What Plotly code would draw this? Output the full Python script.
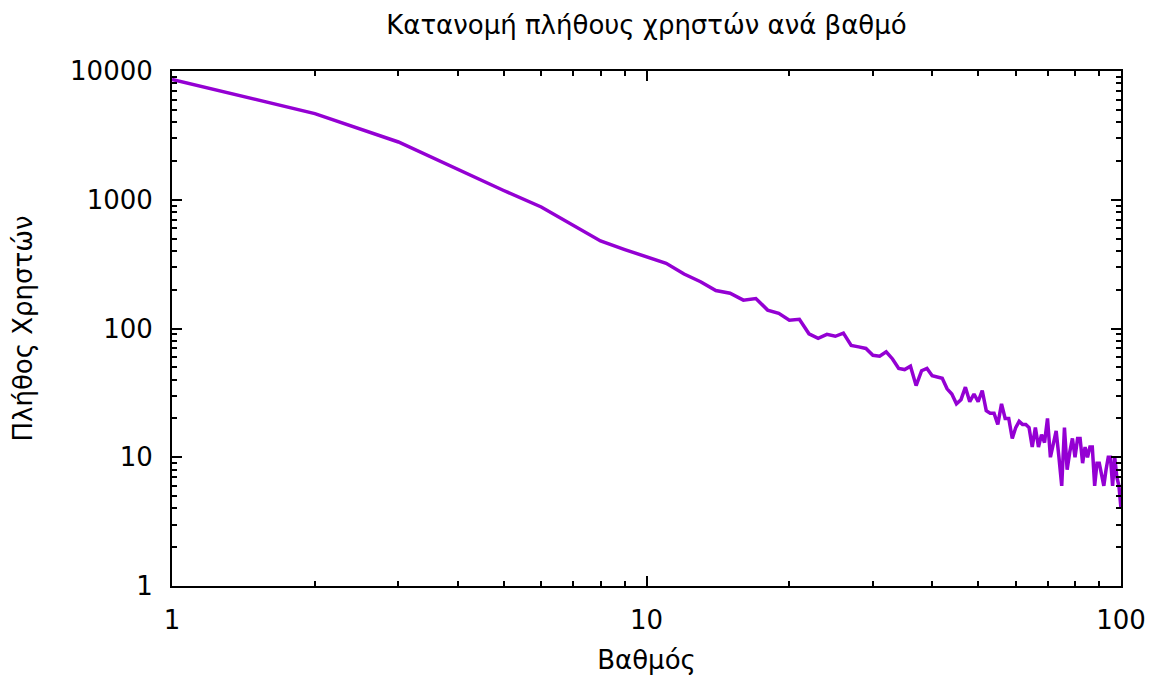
import plotly.graph_objects as go

# Degree (βαθμός) and number of users with that degree
degree = list(range(1, 101))
users = [
    8600, 4670, 2810, 1715, 1180, 879, 630, 478, 410, 358,
    321, 265, 231, 197, 188, 166, 171, 139, 131, 116,
    118, 91, 84, 90, 87, 92, 74, 72, 70, 62,
    61, 66, 58, 49, 48, 51, 36, 47, 49, 43,
    42, 41, 34, 31, 26, 28, 35, 27, 31, 27,
    33, 23, 22, 22, 18, 26, 20, 20, 14, 17,
    19, 18, 18, 17, 12, 17, 12, 15, 13, 20,
    10, 13, 16, 10, 6, 17, 8, 11, 14, 10,
    14, 14, 9, 12, 10, 12, 12, 6, 9, 9,
    7, 6, 8, 10, 10, 6, 10, 7, 6, 4,
]

x_ticks = [1, 10, 100]
x_tick_text = ["1", "10", "100"]
y_ticks = [1, 10, 100, 1000, 10000]
y_tick_text = ["1", "10", "100", "1000", "10000"]

FONT = "DejaVu Sans"
LINE_COLOR = "#9400d3"
TEXT_SIZE = 26

x_minor = [m * d for d in (1, 10) for m in range(2, 10)]
y_minor = [m * d for d in (1, 10, 100, 1000) for m in range(2, 10)]

fig = go.Figure()
fig.add_trace(go.Scatter(
    x=degree, y=users, mode="lines",
    line=dict(color=LINE_COLOR, width=3.5),
    showlegend=False,
))

axis_common = dict(
    type="log",
    automargin=False,
    showgrid=False,
    zeroline=False,
    showline=True,
    linecolor="black",
    linewidth=2,
    mirror="ticks",
    ticks="inside",
    ticklen=10,
    tickwidth=1.5,
    tickcolor="black",
    tickfont=dict(family=FONT, size=TEXT_SIZE, color="black"),
)

fig.update_xaxes(
    **axis_common,
    range=[0, 2],
    tickvals=x_ticks, ticktext=x_tick_text,
    minor=dict(tickvals=x_minor, ticks="inside", ticklen=5, tickwidth=1.5, tickcolor="black"),
    ticklabelstandoff=10,
    title=dict(text="Βαθμός", font=dict(family=FONT, size=TEXT_SIZE, color="black"), standoff=17),
)
fig.update_yaxes(
    **axis_common,
    range=[0, 4],
    tickvals=y_ticks, ticktext=y_tick_text,
    minor=dict(tickvals=y_minor, ticks="inside", ticklen=5, tickwidth=1.5, tickcolor="black"),
    ticklabelstandoff=12,
    title=dict(text="Πλήθος Χρηστών", font=dict(family=FONT, size=TEXT_SIZE, color="black"), standoff=30),
)

fig.update_layout(
    width=1156, height=677,
    margin=dict(l=172, r=35, t=71, b=91),
    paper_bgcolor="white", plot_bgcolor="white",
    title=dict(
        text="Κατανομή πλήθους χρηστών ανά βαθμό",
        font=dict(family=FONT, size=TEXT_SIZE, color="black"),
        x=0.5, xanchor="center", xref="paper",
        y=1 - 25 / 677, yanchor="middle",
    ),
)

fig.write_html("out.html")
